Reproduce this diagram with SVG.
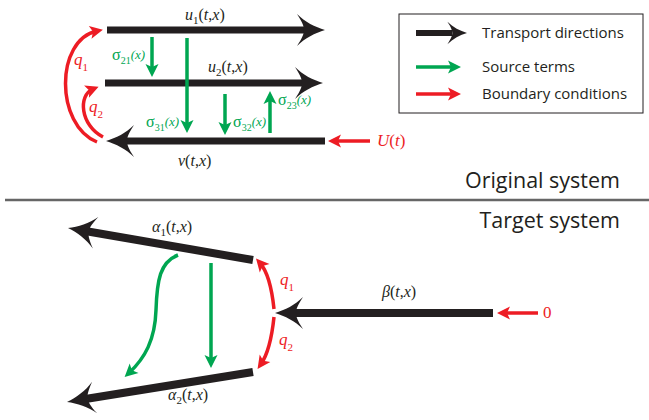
<svg xmlns="http://www.w3.org/2000/svg" xmlns:xlink="http://www.w3.org/1999/xlink" width="649" height="420" viewBox="0 0 649 420">
<style>
.blk{stroke:#231F20;stroke-width:7;fill:none}
.grn{stroke:#00A651;stroke-width:3.5;fill:none}
.red{stroke:#ED1C24;stroke-width:3.5;fill:none}
.math{font-family:"Liberation Serif","DejaVu Serif",serif;font-style:italic;font-size:16px;fill:#231F20}
.up{font-style:normal}
.sub{font-size:11px;font-style:normal}
.sig{font-family:"Liberation Serif","DejaVu Serif",serif;font-size:16px;fill:#00A651}
.sig .s{font-size:10px}
.sig .x{font-style:italic;font-size:13px}
.rm{font-family:"Liberation Serif","DejaVu Serif",serif;font-style:italic;font-size:17px;fill:#ED1C24}
.lg{font-family:"Open Sans",sans-serif;font-size:15px;fill:#231F20}
.ttl{font-family:"Open Sans",sans-serif;font-size:21.5px;fill:#231F20;text-anchor:end}
</style>
<defs>
<path id="bh" d="M0,0 C-10,-3 -20,-8 -28,-16 C-22,-7 -21,-3 -21,0 C-21,3 -22,7 -28,16 C-20,8 -10,3 0,0 Z" fill="#231F20"/>
<marker id="gh" viewBox="-9 -7 16 14" refX="0" refY="0" markerWidth="16" markerHeight="14" markerUnits="userSpaceOnUse" orient="auto">
<path d="M6,0 L-7,-6.5 L-4,0 L-7,6.5 Z" fill="#00A651"/>
</marker>
<marker id="rh" viewBox="-9 -7 16 14" refX="0" refY="0" markerWidth="16" markerHeight="14" markerUnits="userSpaceOnUse" orient="auto">
<path d="M6,0 L-7,-6.5 L-4,0 L-7,6.5 Z" fill="#ED1C24"/>
</marker>
</defs>

<g id="connectors">
<line class="blk" x1="107" y1="30" x2="305" y2="30"/>
<use xlink:href="#bh" transform="translate(325,30)"/>
<line class="blk" x1="105" y1="83" x2="303" y2="83"/>
<use xlink:href="#bh" transform="translate(323,83)"/>
<line class="blk" x1="325" y1="141" x2="126" y2="141"/>
<use xlink:href="#bh" transform="translate(106,141) rotate(180)"/>
<line class="grn" x1="152" y1="37" x2="152" y2="71" marker-end="url(#gh)"/>
<line class="grn" x1="187" y1="38" x2="187" y2="127" marker-end="url(#gh)"/>
<line class="grn" x1="225" y1="94" x2="225" y2="129" marker-end="url(#gh)"/>
<line class="grn" x1="270" y1="133" x2="270" y2="97" marker-end="url(#gh)"/>
<path class="red" d="M97,142 C55,125 55,40 97,31" marker-end="url(#rh)"/>
<path class="red" d="M103,137 C80,125 78,95 93,89" marker-end="url(#rh)"/>
<line class="red" x1="370" y1="141" x2="334" y2="141" marker-end="url(#rh)"/>

<line class="blk" style="stroke-width:8" x1="253" y1="260" x2="88" y2="231.5"/>
<use xlink:href="#bh" transform="translate(68,228) rotate(189.8)"/>
<line class="blk" style="stroke-width:8" x1="253" y1="372" x2="87" y2="398.8"/>
<use xlink:href="#bh" transform="translate(67,402) rotate(170.8)"/>
<line class="blk" style="stroke-width:8" x1="493" y1="313" x2="295" y2="313"/>
<use xlink:href="#bh" transform="translate(275,313) rotate(180)"/>
<path class="grn" d="M178,255 C160,262 157,280 156,310 C155,340 145,358 129,373" marker-end="url(#gh)"/>
<line class="grn" x1="211" y1="263" x2="211" y2="362" marker-end="url(#gh)"/>
<path class="red" d="M274,309 C272,290 268,272 260,263" marker-end="url(#rh)"/>
<path class="red" d="M274,317 C272,336 268,354 261,364" marker-end="url(#rh)"/>
<line class="red" x1="538" y1="313" x2="503" y2="313" marker-end="url(#rh)"/>
</g>

<g id="labels-original">
<text class="math" x="185" y="20">u<tspan class="sub" dy="4">1</tspan><tspan dy="-4" class="up">(</tspan>t<tspan class="up">,</tspan>x<tspan class="up">)</tspan></text>
<text class="math" x="208" y="72">u<tspan class="sub" dy="4">2</tspan><tspan dy="-4" class="up">(</tspan>t<tspan class="up">,</tspan>x<tspan class="up">)</tspan></text>
<text class="math" x="178" y="166">v<tspan class="up">(</tspan>t<tspan class="up">,</tspan>x<tspan class="up">)</tspan></text>
<text class="sig" x="112" y="60">σ<tspan class="s" dy="4">21</tspan><tspan class="x" dy="-5">(x)</tspan></text>
<text class="sig" x="146" y="127">σ<tspan class="s" dy="4">31</tspan><tspan class="x" dy="-5">(x)</tspan></text>
<text class="sig" x="233" y="127">σ<tspan class="s" dy="4">32</tspan><tspan class="x" dy="-5">(x)</tspan></text>
<text class="sig" x="278" y="105">σ<tspan class="s" dy="4">23</tspan><tspan class="x" dy="-5">(x)</tspan></text>
<text class="rm" x="74" y="65">q<tspan class="sub" dy="6">1</tspan></text>
<text class="rm" x="89" y="112">q<tspan class="sub" dy="6">2</tspan></text>
<text class="rm" x="377" y="146"><tspan>U</tspan><tspan class="up">(</tspan>t<tspan class="up">)</tspan></text>
</g>

<g id="legend">
<rect x="399" y="14" width="244" height="99" fill="none" stroke="#231F20" stroke-width="1"/>
<line class="blk" style="stroke-width:6" x1="416" y1="33" x2="452" y2="33"/>
<use xlink:href="#bh" transform="translate(467,33) scale(0.7)"/>
<line class="grn" x1="416" y1="67" x2="455" y2="67" marker-end="url(#gh)"/>
<line class="red" x1="416" y1="94" x2="455" y2="94" marker-end="url(#rh)"/>
<text class="lg" x="482" y="38">Transport directions</text>
<text class="lg" x="482" y="72">Source terms</text>
<text class="lg" x="482" y="99">Boundary conditions</text>
</g>

<g id="titles">
<text class="ttl" x="620" y="188">Original system</text>
<line x1="5" y1="200" x2="649" y2="200" stroke="#666" stroke-width="2.5"/>
<text class="ttl" x="620" y="228">Target system</text>
</g>

<g id="labels-target">
<text class="math" x="152" y="232">α<tspan class="sub" dy="4">1</tspan><tspan dy="-4" class="up">(</tspan>t<tspan class="up">,</tspan>x<tspan class="up">)</tspan></text>
<text class="math" x="168" y="400">α<tspan class="sub" dy="4">2</tspan><tspan dy="-4" class="up">(</tspan>t<tspan class="up">,</tspan>x<tspan class="up">)</tspan></text>
<text class="math" x="382" y="297">β<tspan class="up">(</tspan>t<tspan class="up">,</tspan>x<tspan class="up">)</tspan></text>
<text class="rm" x="280" y="285">q<tspan class="sub" dy="6">1</tspan></text>
<text class="rm" x="279" y="345">q<tspan class="sub" dy="6">2</tspan></text>
<text class="rm" x="543" y="318" style="font-style:normal">0</text>
</g>
</svg>
